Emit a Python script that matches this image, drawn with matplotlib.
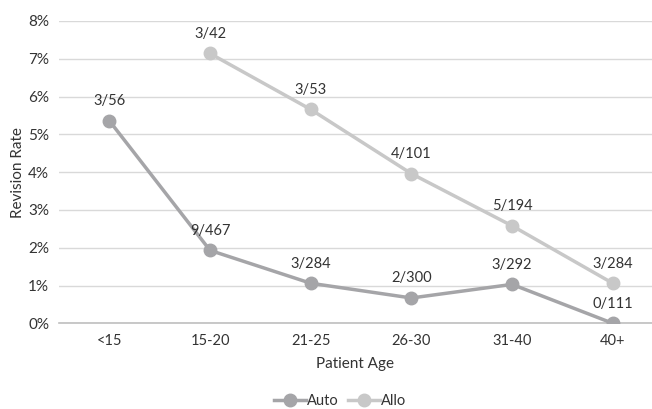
import matplotlib
matplotlib.use("Agg")
import matplotlib.pyplot as plt
import numpy as np

plt.rcParams['font.family'] = ['Lato', 'DejaVu Sans']

categories = ["<15", "15-20", "21-25", "26-30", "31-40", "40+"]
auto_rate = [5.36, 1.93, 1.06, 0.67, 1.03, 0.0]
auto_labels = ["3/56", "9/467", "3/284", "2/300", "3/292", "0/111"]
allo_rate = [np.nan, 7.14, 5.66, 3.96, 2.58, 1.06]
allo_labels = ["", "3/42", "3/53", "4/101", "5/194", "3/284"]
yticks = [0, 1, 2, 3, 4, 5, 6, 7, 8]

text_col = "#333333"
auto_col = "#A5A5A8"
allo_col = "#C8C8C8"

fig = plt.figure(figsize=(6.52, 4.09), dpi=100)
ax = fig.add_axes([59/652, 85.7/409, 1 - 59/652, (323.3-21)/409])

x = np.arange(len(categories))
ax.plot(x, auto_rate, color=auto_col, lw=2.5, marker='o', ms=9, label="Auto", zorder=3)
ax.plot(x, allo_rate, color=allo_col, lw=2.5, marker='o', ms=9, label="Allo", zorder=3)

for xi, v, lab in zip(x, auto_rate, auto_labels):
    ax.annotate(lab, (xi, v), xytext=(0, 9), textcoords='offset points',
                ha='center', va='bottom', fontsize=10.5, color=text_col)
for xi, v, lab in zip(x, allo_rate, allo_labels):
    if lab:
        ax.annotate(lab, (xi, v), xytext=(0, 9), textcoords='offset points',
                    ha='center', va='bottom', fontsize=10.5, color=text_col)

ax.set_xlim(-0.5, 5.39)
ax.set_ylim(0, 8)
ax.set_yticks(yticks)
ax.set_yticklabels([f"{t}%" for t in yticks])
ax.set_xticks(x)
ax.set_xticklabels(categories)
ax.grid(axis='y', color='#D9D9D9', lw=1)
ax.set_axisbelow(True)
for s in ['top', 'right', 'left']:
    ax.spines[s].set_visible(False)
ax.spines['bottom'].set_color('#BFBFBF')
ax.spines['bottom'].set_linewidth(1.2)
ax.tick_params(axis='x', length=0, labelsize=10.5, colors=text_col, pad=8)
ax.tick_params(axis='y', length=0, labelsize=11, colors=text_col, pad=7)
ax.set_xlabel("Patient Age", fontsize=11, color=text_col, labelpad=6)
ax.set_ylabel("Revision Rate", fontsize=11, color=text_col)
ax.yaxis.set_label_coords((25 - 59) / (652 - 59), 0.5)

fig.legend(loc='center', bbox_to_anchor=(340/652, 1 - 401/409), ncol=2, frameon=False,
           fontsize=10.5, handlelength=2.2, handletextpad=0.1, columnspacing=0.6,
           labelcolor=text_col)

fig.savefig("out.png", dpi=100)
